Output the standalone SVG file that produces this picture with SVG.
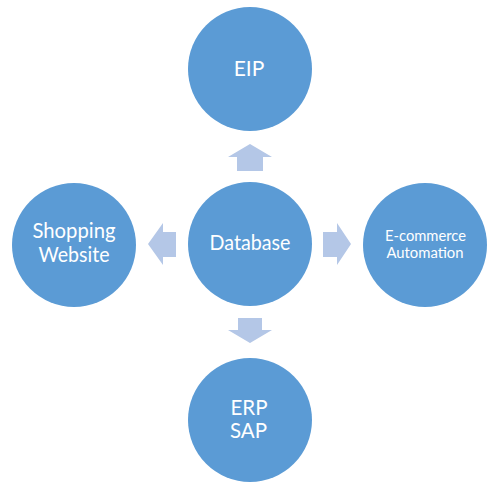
<svg xmlns="http://www.w3.org/2000/svg" width="501" height="489" viewBox="0 0 501 489">
<style>
.c{fill:#5b9bd5}
.t{fill:#ffffff;font-family:Lato,"Liberation Sans",sans-serif;text-anchor:middle}
.a{fill:#b4c7e7}
</style>
<rect width="501" height="489" fill="#ffffff"/>
<g id="connectors">
<polygon class="a" points="237,171 237,157 228,157 250,144 272,157 263,157 263,171"/>
<polygon class="a" points="238,318 238,330 228,330 250,343 272,330 262,330 262,318"/>
<polygon class="a" points="176,232 163,232 163,223 148,244 163,265 163,257 176,257"/>
<polygon class="a" points="323,232 337,232 337,223 351,244 337,265 337,257 323,257"/>
</g>
<g id="eip">
<circle class="c" cx="250" cy="69" r="62"/>
<text class="t" x="249" y="76" font-size="21">EIP</text>
</g>
<g id="database">
<circle class="c" cx="250" cy="244" r="62"/>
<text class="t" x="250" y="250" font-size="21.5" textLength="81" lengthAdjust="spacingAndGlyphs">Database</text>
</g>
<g id="shopping">
<circle class="c" cx="74" cy="245" r="62"/>
<text class="t" x="74" y="238" font-size="21.5" textLength="83" lengthAdjust="spacingAndGlyphs">Shopping</text>
<text class="t" x="74" y="262" font-size="21.5" textLength="71" lengthAdjust="spacingAndGlyphs">Website</text>
</g>
<g id="ecommerce">
<circle class="c" cx="425" cy="245" r="62"/>
<text class="t" x="425.5" y="241" font-size="14.5" textLength="81" lengthAdjust="spacingAndGlyphs">E-commerce</text>
<text class="t" x="425" y="258" font-size="14.5" textLength="77" lengthAdjust="spacingAndGlyphs">Automation</text>
</g>
<g id="erp">
<circle class="c" cx="250" cy="420" r="62"/>
<text class="t" x="249" y="414.5" font-size="20.5">ERP</text>
<text class="t" x="248.5" y="437.5" font-size="20.5">SAP</text>
</g>
</svg>
